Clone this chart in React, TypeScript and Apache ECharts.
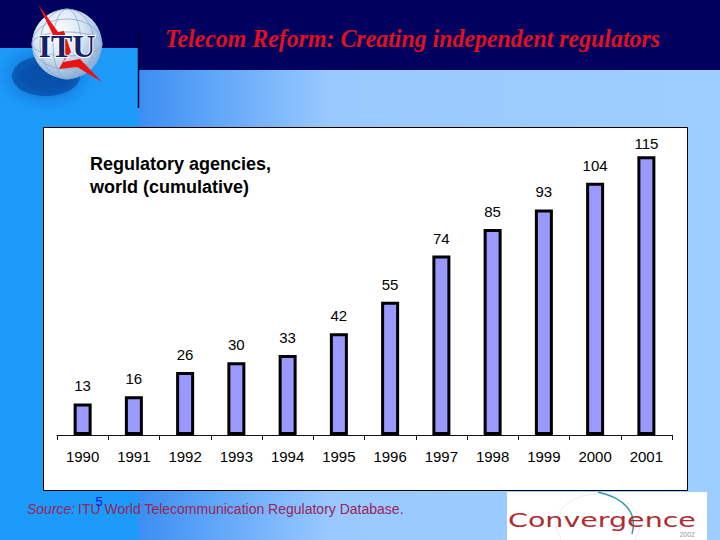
import React, { useEffect, useRef } from "react";
import * as echarts from "echarts";

const years = ["1990", "1991", "1992", "1993", "1994", "1995", "1996", "1997", "1998", "1999", "2000", "2001"];
const agencies = [13, 16, 26, 30, 33, 42, 55, 74, 85, 93, 104, 115];
const chartTitle = "Regulatory agencies,\nworld (cumulative)";
const slideTitle = "Telecom Reform: Creating independent regulators";
const sourceLabel = "Source:";
const sourceText = "ITU World Telecommunication Regulatory Database.";
const slideNumber = "5";

const SANS = "'Liberation Sans', Arial, sans-serif";
const SERIF = "'Liberation Serif', 'Times New Roman', serif";

export default function App() {
  const ref = useRef<HTMLDivElement>(null);
  useEffect(() => {
    if (!ref.current) return;
    const chart = echarts.init(ref.current, undefined, { renderer: "svg" });
    const barData = agencies.map((v, i) =>
      i === agencies.length - 1 ? { value: v, label: { distance: 5 } } : v
    );
    chart.setOption({
      animation: false,
      backgroundColor: "#99ccff",
      title: {
        text: chartTitle,
        left: 85,
        top: 147,
        textStyle: { fontFamily: SANS, fontSize: 18, fontWeight: "bold", color: "#000", lineHeight: 23 },
        z: 20,
      },
      grid: { left: 57, right: 48, top: 144, bottom: 105, containLabel: false },
      xAxis: {
        type: "category",
        data: years,
        boundaryGap: true,
        z: 10,
        axisLine: { show: true, lineStyle: { color: "#111", width: 1 } },
        axisTick: { show: true, length: 5, interval: 0, alignWithLabel: false, lineStyle: { color: "#111" } },
        axisLabel: { fontFamily: SANS, fontSize: 15, color: "#000", margin: 14, interval: 0 },
      },
      yAxis: { type: "value", min: 0, max: 120, show: false, splitLine: { show: false } },
      series: [
        {
          type: "bar",
          data: barData,
          barWidth: 18,
          z: 11,
          itemStyle: { color: "#9999ff", borderColor: "#000", borderWidth: 3 },
          label: { show: true, position: "top", distance: 10, fontFamily: SANS, fontSize: 15, color: "#000" },
        },
      ],
      graphic: [
        {
          type: "rect", z: -10, silent: true,
          shape: { x: 138, y: 70, width: 582, height: 470 },
          style: {
            fill: new echarts.graphic.LinearGradient(0, 0, 1, 0, [
              { offset: 0, color: "#3a8ef2" },
              { offset: 0.33, color: "#99c9ff" },
              { offset: 1, color: "#9dceff" },
            ]),
          },
        },
        { type: "rect", z: -10, silent: true, shape: { x: 0, y: 0, width: 138, height: 540 }, style: { fill: "#1c9bfb" } },
        { type: "rect", z: -10, silent: true, shape: { x: 0, y: 0, width: 720, height: 48 }, style: { fill: "#00005f" } },
        { type: "rect", z: -10, silent: true, shape: { x: 138, y: 0, width: 582, height: 70 }, style: { fill: "#00005f" } },
        { type: "line", z: -9, silent: true, shape: { x1: 138.5, y1: 30, x2: 138.5, y2: 108 }, style: { stroke: "#000033", lineWidth: 1.5 } },
        {
          type: "ellipse", z: -9, silent: true,
          shape: { cx: 46, cy: 76, rx: 34, ry: 20 },
          style: { fill: "rgba(10,60,150,0.55)", shadowBlur: 18, shadowColor: "rgba(0,40,130,0.9)" },
        },
        {
          type: "circle", z: -8, silent: true,
          shape: { cx: 67, cy: 44, r: 35 },
          style: {
            fill: new echarts.graphic.RadialGradient(0.38, 0.32, 0.75, [
              { offset: 0, color: "#ffffff" },
              { offset: 0.45, color: "#dbe8f6" },
              { offset: 1, color: "#7fa6d2" },
            ]),
          },
        },
        { type: "ellipse", z: -7, silent: true, shape: { cx: 67, cy: 44, rx: 14, ry: 35 }, style: { fill: "none", stroke: "#8aa6c8", lineWidth: 0.8 } },
        { type: "ellipse", z: -7, silent: true, shape: { cx: 67, cy: 44, rx: 27, ry: 35 }, style: { fill: "none", stroke: "#8aa6c8", lineWidth: 0.8 } },
        { type: "ellipse", z: -7, silent: true, shape: { cx: 67, cy: 44, rx: 35, ry: 12 }, style: { fill: "none", stroke: "#8aa6c8", lineWidth: 0.8 } },
        { type: "ellipse", z: -7, silent: true, shape: { cx: 67, cy: 44, rx: 35, ry: 25 }, style: { fill: "none", stroke: "#8aa6c8", lineWidth: 0.8 } },
        {
          type: "polygon", z: -6, silent: true,
          shape: {
            points: [
              [38, 4], [58, 32], [64, 31], [71, 52], [63, 62], [80, 59], [102, 82],
              [77, 67], [59, 69], [66, 56], [58, 38], [54, 37],
            ],
          },
          style: { fill: "#ee1111" },
        },
        {
          type: "text", z: -5, silent: true, x: 67, y: 46,
          style: {
            text: "ITU", fontFamily: SERIF, fontWeight: "bold", fontSize: 32,
            fill: "#14226a", stroke: "#ffffff", lineWidth: 2, align: "center", verticalAlign: "middle",
          },
        },
        {
          type: "text", z: -5, x: 165, y: 38, scaleX: 0.955,
          style: {
            text: slideTitle, fontFamily: SERIF, fontStyle: "italic", fontWeight: "bold", fontSize: 25,
            fill: "#e01020", align: "left", verticalAlign: "middle",
          },
        },
        {
          type: "rect", z: -4, silent: true,
          shape: { x: 43.5, y: 127.5, width: 644, height: 363 },
          style: { fill: "#ffffff", stroke: "#000000", lineWidth: 1 },
        },
        {
          type: "text", z: -3, x: 27, y: 509,
          style: { text: sourceLabel, fontFamily: SANS, fontStyle: "italic", fontSize: 14, fill: "#9c2456", align: "left", verticalAlign: "middle" },
        },
        {
          type: "text", z: -3, x: 78, y: 509,
          style: { text: sourceText, fontFamily: SANS, fontSize: 14, fill: "#9c2456", align: "left", verticalAlign: "middle" },
        },
        {
          type: "text", z: -2, x: 99, y: 501,
          style: { text: slideNumber, fontFamily: SANS, fontSize: 13, fill: "#1010d8", align: "center", verticalAlign: "middle" },
        },
        { type: "rect", z: -4, silent: true, shape: { x: 507, y: 492, width: 200, height: 48 }, style: { fill: "#ffffff" } },
        { type: "ellipse", z: -3, silent: true, shape: { cx: 598, cy: 524, rx: 42, ry: 30 }, style: { fill: "none", stroke: "#e8eef0", lineWidth: 1 } },
        {
          type: "bezierCurve", z: -3, silent: true,
          shape: { x1: 598, y1: 492, cpx1: 624, cpy1: 498, cpx2: 638, cpy2: 512, x2: 632, y2: 534 },
          style: { stroke: "#3a98a8", lineWidth: 1.5, fill: "none" },
        },
        {
          type: "text", z: -2, x: 508, y: 521, scaleX: 1.5,
          style: {
            text: "Convergence", fontFamily: "'DejaVu Sans', sans-serif", fontSize: 19,
            fill: "#b02a30", align: "left", verticalAlign: "middle",
          },
        },
        {
          type: "text", z: -2, x: 695, y: 534,
          style: { text: "2002", fontFamily: SANS, fontSize: 7, fill: "#999999", align: "right", verticalAlign: "middle" },
        },
      ],
    });
    return () => chart.dispose();
  }, []);
  return <div ref={ref} style={{ position: "fixed", left: 0, top: 0, width: 720, height: 540 }} />;
}
